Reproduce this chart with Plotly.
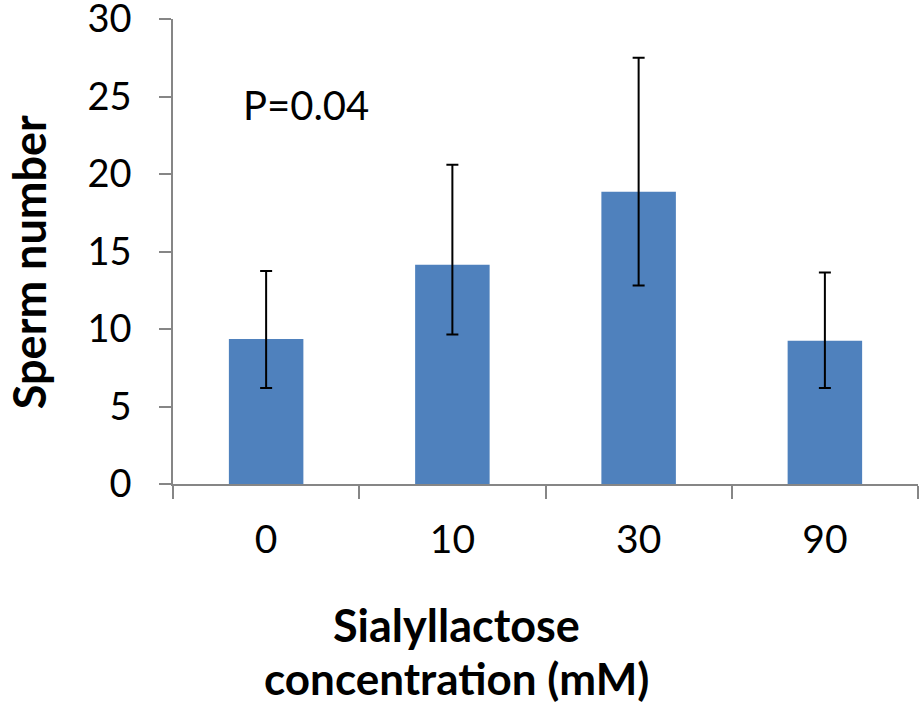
import plotly.graph_objects as go

categories = ["0", "10", "30", "90"]
means = [9.35, 14.15, 18.85, 9.25]
err_plus = [4.4, 6.45, 8.65, 4.4]
err_minus = [3.15, 4.5, 6.05, 3.05]
y_ticks = [0, 5, 10, 15, 20, 25, 30]

FONT = "Lato"
AX = "#868686"

fig = go.Figure(go.Bar(
    x=categories, y=means,
    marker=dict(color="#4F81BD", line=dict(width=0)),
    width=0.4,
    error_y=dict(type="data", symmetric=False, array=err_plus, arrayminus=err_minus,
                 color="black", thickness=2, width=6),
))

fig.update_layout(
    width=920, height=702,
    margin=dict(l=173, r=2, t=19, b=218, autoexpand=False),
    paper_bgcolor="white", plot_bgcolor="white",
    showlegend=False,
    font=dict(family=FONT, color="black", size=38),
)
fig.update_xaxes(
    type="category", showline=True, linecolor=AX, linewidth=1.5,
    ticks="outside", tickson="boundaries", ticklen=13, tickcolor=AX, tickwidth=1.5,
    tickfont=dict(size=39), ticklabelstandoff=20, showgrid=False, zeroline=False,
    automargin=False,
)
fig.update_yaxes(
    range=[0, 30], tickvals=y_ticks, showline=True, linecolor=AX, linewidth=1.5,
    ticks="outside", ticklen=12, tickcolor=AX, tickwidth=1.5,
    tickfont=dict(size=38), ticklabelstandoff=20, showgrid=False, zeroline=False,
    automargin=False, ticklabeloverflow="allow",
)

fig.add_annotation(text="<b>Sperm number</b>", xref="paper", yref="paper",
                   x=-0.194, y=0.478, textangle=-90, showarrow=False,
                   font=dict(size=45), xanchor="center", yanchor="middle")
fig.add_annotation(text="<b>Sialyllactose</b>", xref="paper", yref="paper",
                   x=0.38, y=-0.303, showarrow=False,
                   font=dict(size=45), xanchor="center", yanchor="middle")
fig.add_annotation(text="<b>concentration (mM)</b>", xref="paper", yref="paper",
                   x=0.38, y=-0.418, showarrow=False,
                   font=dict(size=44), xanchor="center", yanchor="middle")
fig.add_annotation(text="P=0.04", xref="paper", yref="paper",
                   x=0.1785, y=0.815, showarrow=False,
                   font=dict(size=40), xanchor="center", yanchor="middle")

fig.write_html("out.html", config={"displayModeBar": False},
               post_script="document.body.style.margin='0px';")
